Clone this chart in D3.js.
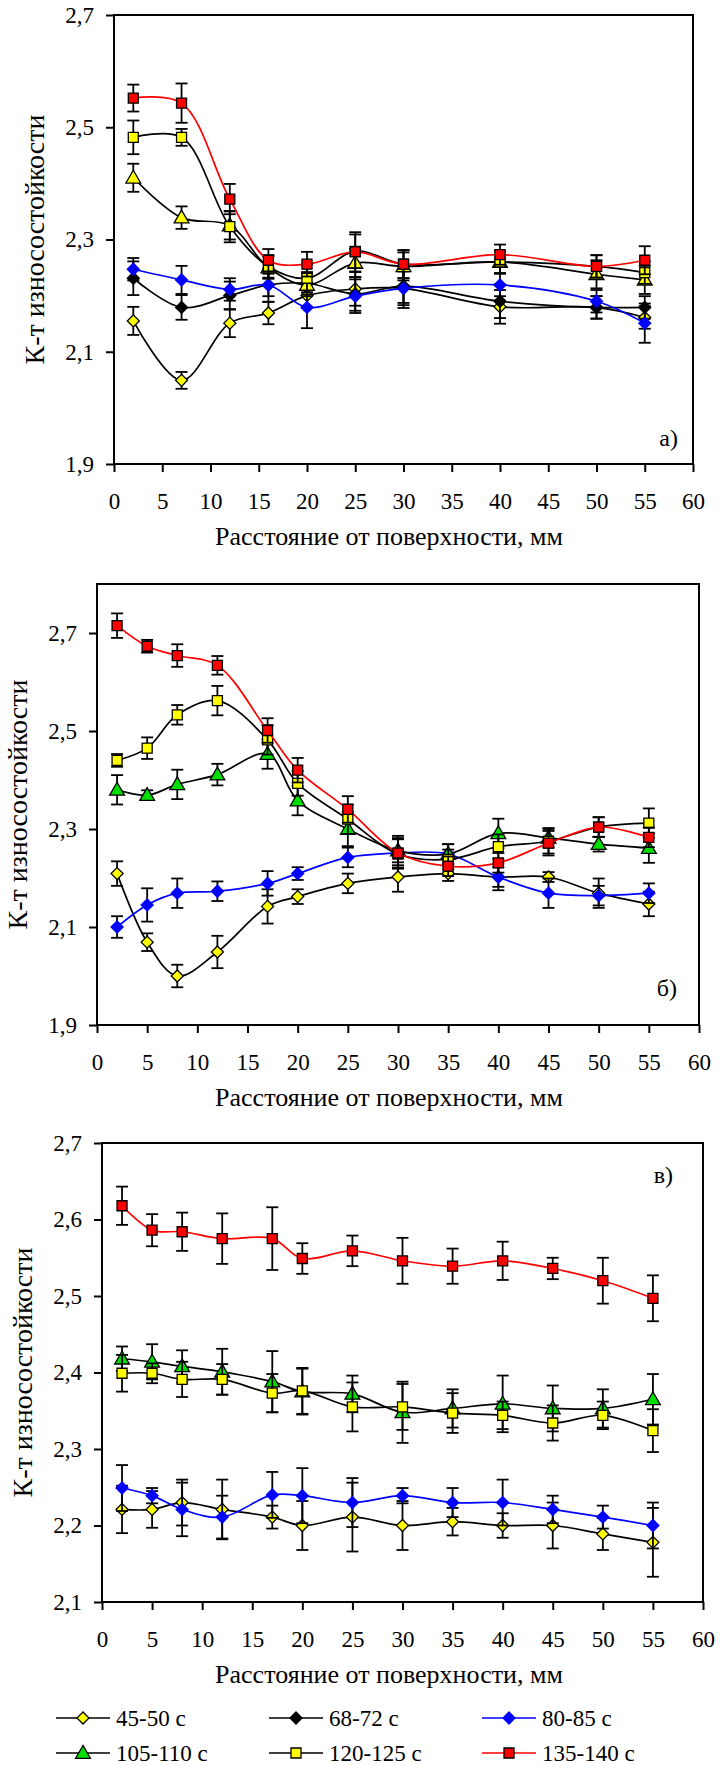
<!DOCTYPE html>
<html>
<head>
<meta charset="utf-8">
<script src="https://cdn.jsdelivr.net/npm/d3@7"></script>
<style>
  body { margin: 0; background: #fff; }
  svg { display: block; font-family: "Liberation Serif", "Times New Roman", serif; }
  .axis text { font-family: "Liberation Serif", "Times New Roman", serif; font-size: 23px; fill: #000; }
  .axis line { stroke: #000; stroke-width: 2px; }
</style>
</head>
<body>
<svg id="chart" width="720" height="1765"></svg>
<script>
// ---- data ----
const seriesNames = ["45-50 с", "68-72 с", "80-85 с", "105-110 с", "120-125 с", "135-140 с"];
const xTicks = [0, 5, 10, 15, 20, 25, 30, 35, 40, 45, 50, 55, 60];

// panel а)
const xA = [2, 7, 12, 16, 20, 25, 30, 40, 50, 55];
const a4550 = [2.155, 2.049, 2.151, 2.169, 2.200, 2.212, 2.213, 2.180, 2.179, 2.161];
const a4550Err = [0.025, 0.015, 0.025, 0.02, 0.02, 0.03, 0.03, 0.03, 0.02, 0.02];
const a6872 = [2.231, 2.179, 2.200, 2.219, 2.222, 2.203, 2.217, 2.190, 2.179, 2.179];
const a6872Err = [0.03, 0.022, 0.025, 0.02, 0.02, 0.03, 0.03, 0.03, 0.02, 0.02];
const a8085 = [2.247, 2.228, 2.211, 2.219, 2.179, 2.199, 2.213, 2.219, 2.190, 2.151];
const a8085Err = [0.02, 0.025, 0.02, 0.03, 0.037, 0.03, 0.035, 0.02, 0.02, 0.035];
const a105 = [2.410, 2.339, 2.325, 2.250, 2.219, 2.258, 2.252, 2.260, 2.238, 2.228];
const a105Err = [0.025, 0.02, 0.025, 0.02, 0.02, 0.025, 0.025, 0.02, 0.025, 0.025];
const a120 = [2.482, 2.482, 2.323, 2.252, 2.231, 2.279, 2.256, 2.260, 2.252, 2.241];
const a120Err = [0.03, 0.015, 0.028, 0.02, 0.025, 0.03, 0.025, 0.02, 0.02, 0.02];
const a135 = [2.552, 2.543, 2.372, 2.263, 2.256, 2.278, 2.256, 2.273, 2.252, 2.263];
const a135Err = [0.024, 0.035, 0.027, 0.02, 0.022, 0.035, 0.025, 0.018, 0.02, 0.025];

// panel б)
const xB = [2, 5, 8, 12, 17, 20, 25, 30, 35, 40, 45, 50, 55];
const b4550 = [2.209, 2.069, 2.000, 2.049, 2.142, 2.162, 2.189, 2.202, 2.209, 2.202, 2.202, 2.169, 2.147];
const b4550Err = [0.025, 0.018, 0.023, 0.033, 0.035, 0.015, 0.02, 0.03, 0.015, 0.02, 0.01, 0.03, 0.025];
const b8085 = [2.100, 2.145, 2.169, 2.173, 2.189, 2.209, 2.242, 2.251, 2.249, 2.202, 2.169, 2.164, 2.169];
const b8085Err = [0.022, 0.034, 0.03, 0.02, 0.025, 0.013, 0.02, 0.03, 0.02, 0.027, 0.03, 0.02, 0.02];
const b105 = [2.380, 2.369, 2.391, 2.411, 2.453, 2.358, 2.300, 2.256, 2.249, 2.291, 2.282, 2.269, 2.261];
const b105Err = [0.03, 0.01, 0.03, 0.022, 0.03, 0.03, 0.035, 0.03, 0.02, 0.03, 0.02, 0.015, 0.03];
const b120 = [2.440, 2.465, 2.533, 2.562, 2.482, 2.393, 2.320, 2.249, 2.238, 2.264, 2.275, 2.304, 2.312];
const b120Err = [0.013, 0.022, 0.02, 0.03, 0.03, 0.025, 0.03, 0.03, 0.02, 0.025, 0.025, 0.02, 0.03];
const b135 = [2.715, 2.673, 2.654, 2.634, 2.501, 2.420, 2.340, 2.251, 2.224, 2.231, 2.271, 2.304, 2.283];
const b135Err = [0.025, 0.013, 0.023, 0.019, 0.025, 0.025, 0.027, 0.03, 0.02, 0.02, 0.025, 0.02, 0.02];

// panel в)
const xC = [2, 5, 8, 12, 17, 20, 25, 30, 35, 40, 45, 50, 55];
const c4550 = [2.221, 2.221, 2.230, 2.221, 2.211, 2.200, 2.211, 2.200, 2.205, 2.200, 2.200, 2.189, 2.178];
const c4550Err = [0.031, 0.024, 0.03, 0.039, 0.015, 0.032, 0.045, 0.032, 0.018, 0.016, 0.03, 0.021, 0.045];
const c8085 = [2.249, 2.239, 2.221, 2.211, 2.240, 2.239, 2.230, 2.239, 2.230, 2.230, 2.221, 2.211, 2.200];
const c8085Err = [0.03, 0.01, 0.035, 0.028, 0.03, 0.036, 0.032, 0.01, 0.019, 0.03, 0.018, 0.015, 0.03];
const c105 = [2.418, 2.414, 2.408, 2.401, 2.388, 2.375, 2.372, 2.348, 2.353, 2.359, 2.353, 2.353, 2.365];
const c105Err = [0.016, 0.023, 0.021, 0.03, 0.04, 0.03, 0.024, 0.04, 0.025, 0.037, 0.03, 0.025, 0.033];
const c120 = [2.399, 2.399, 2.391, 2.391, 2.373, 2.376, 2.355, 2.355, 2.347, 2.344, 2.334, 2.344, 2.324];
const c120Err = [0.024, 0.013, 0.023, 0.02, 0.025, 0.03, 0.032, 0.03, 0.026, 0.018, 0.023, 0.018, 0.028];
const c135 = [2.618, 2.586, 2.584, 2.575, 2.575, 2.549, 2.559, 2.546, 2.539, 2.546, 2.536, 2.520, 2.497];
const c135Err = [0.025, 0.021, 0.025, 0.033, 0.041, 0.02, 0.02, 0.03, 0.023, 0.025, 0.014, 0.03, 0.03];

// ---- styles per series ----
const styles = {
  "45-50 с":   { line: "#000", shape: "diamond",  fill: "#ffff00" },
  "68-72 с":   { line: "#000", shape: "diamond",  fill: "#000" },
  "80-85 с":   { line: "#0000ff", shape: "diamond", fill: "#0000ff", stroke: "#0000ff" },
  "105-110 с": { line: "#000", shape: "triangle", fill: "#00dd00" },
  "120-125 с": { line: "#000", shape: "square",   fill: "#ffff00" },
  "135-140 с": { line: "#ff0000", shape: "square", fill: "#ff0000" }
}

const panels = [
  {
    box: { left: 114, right: 693, top: 15, bottom: 464 },
    yDomain: [1.9, 2.7], yTicks: [1.9, 2.1, 2.3, 2.5, 2.7],
    letter: "а)", letterPos: [678, 446],
    x: xA, triFill: "#ffff00",
    series: [
      [seriesNames[0], a4550, a4550Err], [seriesNames[1], a6872, a6872Err],
      [seriesNames[2], a8085, a8085Err], [seriesNames[3], a105, a105Err],
      [seriesNames[4], a120, a120Err], [seriesNames[5], a135, a135Err]
    ]
  },
  {
    box: { left: 97, right: 699, top: 584, bottom: 1025 },
    yDomain: [1.9, 2.8], yTicks: [1.9, 2.1, 2.3, 2.5, 2.7],
    letter: "б)", letterPos: [677, 996],
    x: xB,
    series: [
      [seriesNames[0], b4550, b4550Err], [seriesNames[2], b8085, b8085Err],
      [seriesNames[3], b105, b105Err], [seriesNames[4], b120, b120Err],
      [seriesNames[5], b135, b135Err]
    ]
  },
  {
    box: { left: 102, right: 703, top: 1143, bottom: 1602 },
    yDomain: [2.1, 2.7], yTicks: [2.1, 2.2, 2.3, 2.4, 2.5, 2.6, 2.7],
    letter: "в)", letterPos: [673, 1183],
    x: xC,
    series: [
      [seriesNames[0], c4550, c4550Err], [seriesNames[2], c8085, c8085Err],
      [seriesNames[3], c105, c105Err], [seriesNames[4], c120, c120Err],
      [seriesNames[5], c135, c135Err]
    ]
  }
]

const svg = d3.select('#chart')
const fmt = d => d3.format('.1f')(d).replace('.', ',')

function markerPath(shape) {
  if (shape === 'square') return d3.symbol(d3.symbolSquare, 100)()
  if (shape === 'triangle') return d3.symbol(d3.symbolTriangle, 95)()
  return d3.symbol(d3.symbolSquare, 72)()   // rotated 45 -> diamond
}

function drawMarker(g, shape, fill, stroke) {
  g.append('path')
    .attr('d', markerPath(shape))
    .attr('transform', shape === 'diamond' ? 'rotate(45)' : (shape === 'triangle' ? 'translate(0,1)' : null))
    .attr('fill', fill)
    .attr('stroke', stroke || '#000')
    .attr('stroke-width', 1.3)
}

function drawPanel(p) {
  const { left, right, top, bottom } = p.box
  const x = d3.scaleLinear().domain([0, 60]).range([left, right])
  const y = d3.scaleLinear().domain(p.yDomain).range([bottom, top])
  const g = svg.append('g')

  // frame
  g.append('rect')
    .attr('x', left).attr('y', top)
    .attr('width', right - left).attr('height', bottom - top)
    .attr('fill', 'none').attr('stroke', '#000').attr('stroke-width', 2)

  g.append('g')
    .attr('class', 'axis')
    .attr('transform', `translate(0, ${bottom})`)
    .call(d3.axisBottom(x).tickValues(xTicks).tickSize(8).tickPadding(21).tickSizeOuter(0))
    .call(a => a.select('.domain').remove())

  g.append('g')
    .attr('class', 'axis')
    .attr('transform', `translate(${left}, 0)`)
    .call(d3.axisLeft(y).tickValues(p.yTicks).tickFormat(fmt).tickSize(8).tickPadding(12).tickSizeOuter(0))
    .call(a => a.select('.domain').remove())

  // axis titles
  g.append('text')
    .attr('x', 389).attr('y', bottom + 72)
    .attr('dy', '0.35em')
    .attr('text-anchor', 'middle')
    .style('font-size', '26px')
    .text('Расстояние от поверхности, мм')

  g.append('text')
    .attr('transform', `translate(${left - 80}, ${(top + bottom) / 2}) rotate(-90)`)
    .attr('dy', '0.35em')
    .attr('text-anchor', 'middle')
    .style('font-size', '28px')
    .text('К-т износостойкости')

  g.append('text')
    .attr('x', p.letterPos[0]).attr('y', p.letterPos[1])
    .attr('text-anchor', 'end')
    .style('font-size', '24px')
    .text(p.letter)

  const line = d3.line()
    .x(d => x(d.x)).y(d => y(d.v))
    .curve(d3.curveCatmullRom.alpha(0.5))

  p.series.forEach(([name, vals, errs]) => {
    const st = styles[name]
    const pts = vals.map((v, i) => ({ x: p.x[i], v: v, e: errs[i] }))
    const sg = g.append('g').attr('class', 'series')

    sg.append('path')
      .datum(pts)
      .attr('d', line)
      .attr('fill', 'none')
      .attr('stroke', st.line)
      .attr('stroke-width', 1.7)

    // error bars
    const eb = sg.selectAll('.err').data(pts).enter().append('g').attr('class', 'err')
    eb.append('line')
      .attr('x1', d => x(d.x)).attr('x2', d => x(d.x))
      .attr('y1', d => y(d.v - d.e)).attr('y2', d => y(d.v + d.e))
    eb.append('line')
      .attr('x1', d => x(d.x) - 6).attr('x2', d => x(d.x) + 6)
      .attr('y1', d => y(d.v + d.e)).attr('y2', d => y(d.v + d.e))
    eb.append('line')
      .attr('x1', d => x(d.x) - 6).attr('x2', d => x(d.x) + 6)
      .attr('y1', d => y(d.v - d.e)).attr('y2', d => y(d.v - d.e))
    eb.selectAll('line').attr('stroke', '#000').attr('stroke-width', 1.8)

    const fill = (st.shape === 'triangle' && p.triFill) ? p.triFill : st.fill
    sg.selectAll('.mk').data(pts).enter().append('g')
      .attr('class', 'mk')
      .attr('transform', d => `translate(${x(d.x)}, ${y(d.v)})`)
      .each(function () { drawMarker(d3.select(this), st.shape, fill, st.stroke) })
  })
}

panels.forEach(drawPanel)

// legend
const legendCols = [56, 269, 482]
const legendRows = [1718, 1753]
const legend = svg.append('g')
seriesNames.forEach((name, i) => {
  const st = styles[name]
  const lx = legendCols[i % 3], ly = legendRows[Math.floor(i / 3)]
  const item = legend.append('g').attr('transform', `translate(${lx}, ${ly})`)
  item.append('line')
    .attr('x1', 0).attr('x2', 54).attr('y1', 0).attr('y2', 0)
    .attr('stroke', st.line).attr('stroke-width', 1.7)
  const m = item.append('g').attr('transform', 'translate(27, 0)')
  drawMarker(m, st.shape, st.fill, st.stroke)
  item.append('text')
    .attr('x', 60).attr('dy', '0.35em')
    .style('font-size', '23px')
    .text(name)
})
</script>
</body>
</html>
